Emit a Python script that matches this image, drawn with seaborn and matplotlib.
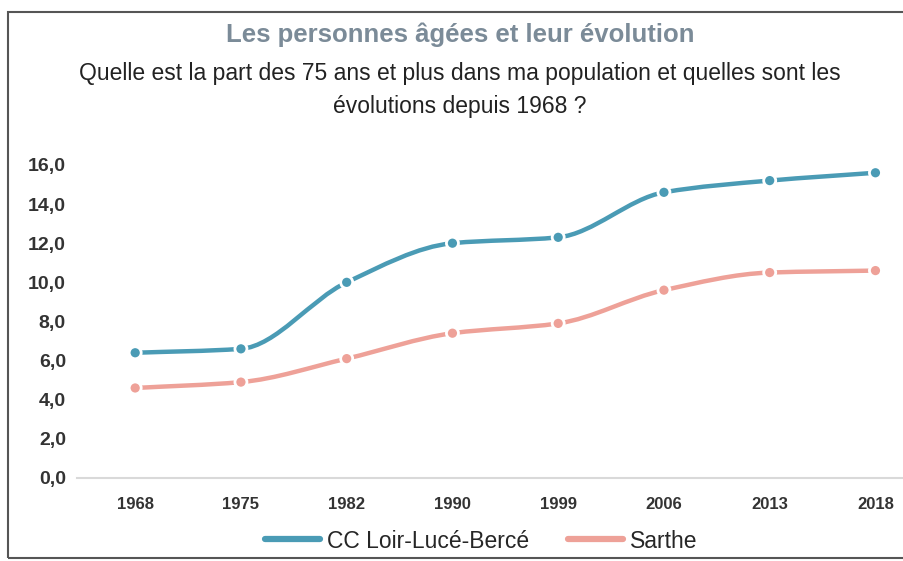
import numpy as np
import pandas as pd
import matplotlib
matplotlib.use("Agg")
import matplotlib.pyplot as plt
from matplotlib.path import Path
from matplotlib.patches import PathPatch, Rectangle
from matplotlib.lines import Line2D
import seaborn as sns

years = ["1968", "1975", "1982", "1990", "1999", "2006", "2013", "2018"]
cc_loir = [6.4, 6.6, 10.0, 12.0, 12.3, 14.6, 15.2, 15.6]
sarthe = [4.6, 4.9, 6.1, 7.4, 7.9, 9.6, 10.5, 10.6]
series_names = ["CC Loir-Lucé-Bercé", "Sarthe"]
colors = ["#4a9bb5", "#eea198"]

sns.set_theme(style="white")
plt.rcParams["font.family"] = ["Liberation Sans", "DejaVu Sans"]

df = pd.DataFrame({
    "pos": list(range(len(years))) * 2,
    "val": cc_loir + sarthe,
    "serie": [series_names[0]] * len(years) + [series_names[1]] * len(years),
})

fig = plt.figure(figsize=(9.04, 5.61), dpi=100)
ax = fig.add_axes([0.0852, 0.148, 0.9148, 0.558])


def smooth_path(xs, ys):
    # smoothed line as bezier segments, monotone tangents so no overshoot
    x = np.asarray(xs, dtype=float)
    y = np.asarray(ys, dtype=float)
    d = np.diff(y) / np.diff(x)
    m = np.zeros_like(y)
    m[0], m[-1] = d[0], d[-1]
    for i in range(1, len(y) - 1):
        if d[i - 1] * d[i] > 0:
            m[i] = 2.0 / (1.0 / d[i - 1] + 1.0 / d[i])
    verts = [(x[0], y[0])]
    codes = [Path.MOVETO]
    for i in range(len(x) - 1):
        h = x[i + 1] - x[i]
        verts += [(x[i] + h / 3, y[i] + m[i] * h / 3),
                  (x[i + 1] - h / 3, y[i + 1] - m[i + 1] * h / 3),
                  (x[i + 1], y[i + 1])]
        codes += [Path.CURVE4] * 3
    return Path(verts, codes)


for name, color in zip(series_names, colors):
    sub = df[df["serie"] == name]
    patch = PathPatch(smooth_path(sub["pos"], sub["val"]), facecolor="none",
                      edgecolor=color, lw=3.2, capstyle="round", zorder=2)
    ax.add_patch(patch)

sns.scatterplot(data=df, x="pos", y="val", hue="serie", palette=colors,
                s=75, edgecolor="white", linewidth=2, legend=False,
                zorder=3, clip_on=False, ax=ax)

ax.set_xlim(-0.55, 7.27)
ax.set_ylim(0, 16)
ax.set_xticks(range(len(years)))
ax.set_xticklabels(years)
yt = np.arange(0, 17, 2)
ax.set_yticks(yt)
ax.set_yticklabels([f"{v:.1f}".replace(".", ",") for v in yt])
ax.set_xlabel("")
ax.set_ylabel("")
for s in ["top", "right", "left"]:
    ax.spines[s].set_visible(False)
ax.spines["bottom"].set_color("#d9d9d9")
ax.spines["bottom"].set_linewidth(1.5)
ax.tick_params(axis="both", length=0)
ax.tick_params(axis="y", pad=8)
ax.tick_params(axis="x", pad=14)
for lab in ax.get_yticklabels():
    lab.set_fontsize(14)
    lab.set_fontweight("bold")
    lab.set_color("#333333")
for lab in ax.get_xticklabels():
    lab.set_fontsize(12)
    lab.set_fontweight("bold")
    lab.set_color("#333333")

fig.text(0.509, 1 - 35 / 561, "Les personnes âgées et leur évolution",
         ha="center", va="center", fontsize=18.5, fontweight="bold", color="#7b8b98")
fig.text(0.509, 1 - 74 / 561,
         "Quelle est la part des 75 ans et plus dans ma population et quelles sont les",
         ha="center", va="center", fontsize=16.5, color="#222222")
fig.text(0.509, 1 - 107 / 561, "évolutions depuis 1968 ?",
         ha="center", va="center", fontsize=16.5, color="#222222")

handles = [Line2D([0], [0], color=c, lw=4.5) for c in colors]
fig.legend(handles, series_names, loc="center", bbox_to_anchor=(0.532, 1 - 541 / 561),
           ncol=2, frameon=False, fontsize=16.5, handlelength=2.4, columnspacing=1.7,
           handletextpad=0.3)

fig.add_artist(Rectangle((8 / 904, 3 / 561), 1.0, (558 - 12) / 561,
                         transform=fig.transFigure, fill=False,
                         edgecolor="#555555", lw=1.5))

fig.savefig("out.png", dpi=100)
